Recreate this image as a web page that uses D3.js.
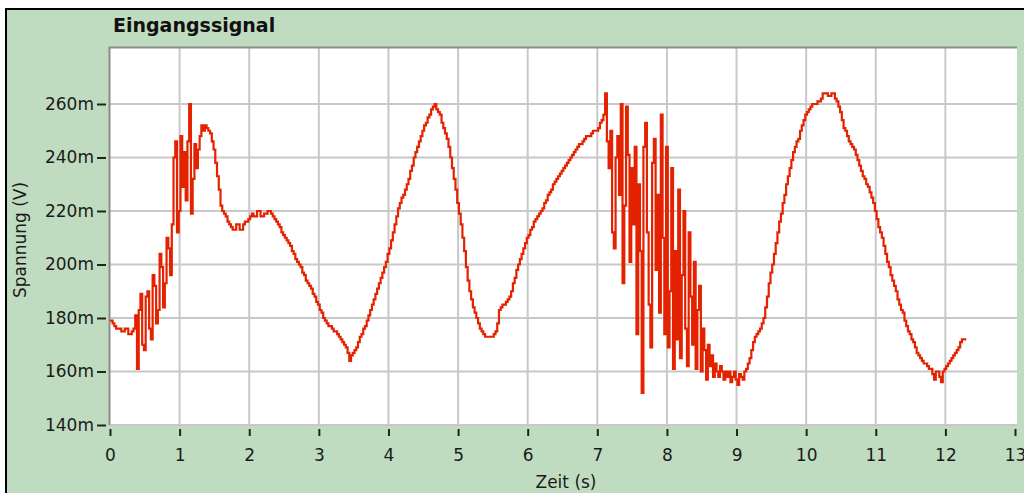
<!DOCTYPE html>
<html>
<head>
<meta charset="utf-8">
<script src="https://cdn.jsdelivr.net/npm/d3@7"></script>
<style>
  body { margin: 0; background: #fff; }
  svg { display: block; }
</style>
</head>
<body>
<div id="wrapper"></div>
<script>
// waveform: start time and sample interval (s), values in mV (two rows = 1 s)
const t0 = 0
const dt = 0.025
const volts = [
  179, 179, 178, 177, 176, 176, 176, 175, 175, 176, 176, 174, 174, 175, 176, 181, 161, 183, 189, 170,
  168, 188, 190, 176, 172, 196, 192, 178, 183, 204, 199, 184, 193, 210, 206, 196, 215, 240, 246, 212,
  220, 248, 229, 242, 224, 246, 260, 219, 232, 245, 236, 243, 248, 252, 250, 252, 251, 250, 249, 246,
  243, 238, 233, 228, 222, 220, 219, 218, 216, 215, 214, 213, 213, 215, 215, 213, 213, 215, 216, 216,
  217, 218, 219, 218, 218, 220, 220, 218, 218, 219, 219, 220, 220, 219, 218, 217, 216, 215, 214, 212,
  211, 210, 209, 208, 207, 205, 204, 202, 201, 200, 199, 197, 196, 194, 193, 192, 191, 189, 188, 186,
  185, 183, 182, 180, 179, 178, 177, 177, 176, 175, 175, 174, 173, 172, 171, 170, 169, 167, 164, 166,
  167, 168, 169, 171, 173, 174, 176, 177, 179, 181, 183, 185, 187, 189, 191, 193, 195, 197, 199, 201,
  204, 206, 209, 212, 215, 218, 221, 223, 225, 226, 228, 230, 232, 235, 237, 240, 242, 244, 246, 248,
  250, 252, 253, 255, 256, 258, 259, 260, 258, 257, 256, 253, 251, 249, 247, 244, 240, 236, 232, 228,
  223, 219, 215, 210, 205, 199, 194, 190, 187, 184, 182, 180, 178, 176, 175, 174, 173, 173, 173, 173,
  173, 174, 175, 178, 183, 184, 185, 185, 186, 187, 188, 190, 193, 195, 198, 200, 202, 204, 206, 208,
  210, 211, 213, 214, 216, 217, 218, 219, 220, 221, 223, 224, 226, 227, 228, 230, 231, 232, 233, 234,
  235, 236, 237, 238, 239, 240, 241, 242, 243, 244, 245, 245, 246, 247, 248, 248, 248, 249, 250, 250,
  250, 251, 253, 254, 256, 264, 246, 236, 250, 212, 206, 240, 248, 226, 260, 193, 222, 259, 241, 201,
  236, 215, 244, 174, 230, 205, 152, 244, 253, 212, 185, 169, 238, 247, 198, 226, 182, 256, 210, 174,
  244, 169, 190, 236, 161, 205, 172, 228, 165, 196, 220, 176, 162, 212, 188, 170, 201, 161, 183, 192,
  160, 176, 168, 157, 170, 162, 166, 158, 163, 160, 158, 162, 160, 157, 160, 158, 160, 156, 158, 160,
  157, 155, 159, 158, 157, 160, 161, 163, 165, 168, 171, 173, 174, 175, 176, 178, 180, 184, 188, 193,
  197, 200, 204, 208, 212, 216, 219, 223, 226, 230, 233, 236, 239, 242, 244, 246, 247, 250, 252, 254,
  256, 257, 258, 259, 260, 260, 260, 261, 261, 262, 264, 264, 264, 263, 263, 264, 264, 262, 261, 259,
  257, 254, 251, 250, 248, 246, 245, 244, 243, 241, 239, 237, 235, 233, 232, 230, 229, 227, 225, 223,
  220, 217, 214, 212, 210, 207, 204, 201, 199, 196, 194, 192, 190, 187, 185, 183, 182, 179, 177, 175,
  174, 172, 171, 169, 167, 166, 165, 164, 163, 163, 162, 161, 161, 159, 157, 160, 160, 158, 156, 160,
  161, 162, 163, 164, 165, 166, 167, 168, 169, 171, 172, 172, 172
]

const xTicks = [0, 1, 2, 3, 4, 5, 6, 7, 8, 9, 10, 11, 12, 13]
const yTicks = [140, 160, 180, 200, 220, 240, 260]

const title = "Eingangssignal"
const xLabel = "Zeit (s)"
const yLabel = "Spannung (V)"

const data = volts.map((v, i) => ({ t: t0 + i * dt, v }))
const xAccessor = d => d.t
const yAccessor = d => d.v

let dms = {
  width: 1024,
  height: 493,
  margins: { top: 48, right: 7, bottom: 68, left: 110 }
}
dms.boundedWidth = dms.width - dms.margins.left - dms.margins.right
dms.boundedHeight = dms.height - dms.margins.top - dms.margins.bottom

const font = "'DejaVu Sans', Tahoma, sans-serif"
const green = "#c0dcc0"

const wrapper = d3.select("#wrapper")
  .append("svg")
  .attr("width", dms.width)
  .attr("height", dms.height)

// panel background with black frame on top/left
wrapper.append("rect")
  .attr("x", 6).attr("y", 9)
  .attr("width", dms.width + 20).attr("height", dms.height + 20)
  .attr("fill", green)
  .attr("stroke", "#000")
  .attr("stroke-width", 2)

wrapper.append("text")
  .attr("x", 113).attr("y", 32)
  .attr("font-family", font)
  .attr("font-size", 19)
  .attr("font-weight", "bold")
  .attr("fill", "#111")
  .text(title)

const bounds = wrapper.append("g")
  .attr("transform", `translate(${dms.margins.left}, ${dms.margins.top})`)

const xScale = d3.scaleLinear()
  .domain([0, 13])
  .range([0, 905])

const yScale = d3.scaleLinear()
  .domain([140, 260])
  .range([dms.boundedHeight, 56])

bounds.append("rect")
  .attr("width", dms.boundedWidth)
  .attr("height", dms.boundedHeight)
  .attr("fill", "#fff")

// grid
bounds.append("g")
  .selectAll("line")
  .data(xTicks.filter(d => d > 0 && d < 13))
  .join("line")
  .attr("x1", d => xScale(d)).attr("x2", d => xScale(d))
  .attr("y1", 0).attr("y2", dms.boundedHeight)
  .attr("stroke", "#c8c8c8")
  .attr("stroke-width", 2)

bounds.append("g")
  .selectAll("line")
  .data(yTicks)
  .join("line")
  .attr("x1", 0).attr("x2", dms.boundedWidth)
  .attr("y1", d => yScale(d)).attr("y2", d => yScale(d))
  .attr("stroke", "#c8c8c8")
  .attr("stroke-width", 2)

// plot frame, darker on top and left
bounds.append("line")
  .attr("x1", -1).attr("x2", dms.boundedWidth)
  .attr("y1", -0.5).attr("y2", -0.5)
  .attr("stroke", "#8c8c8c").attr("stroke-width", 2)
bounds.append("line")
  .attr("x1", -0.5).attr("x2", -0.5)
  .attr("y1", -1).attr("y2", dms.boundedHeight)
  .attr("stroke", "#8c8c8c").attr("stroke-width", 2)

// quantized signal -> draw as steps
const lineGenerator = d3.line()
  .x(d => xScale(xAccessor(d)))
  .y(d => yScale(yAccessor(d)))
  .curve(d3.curveStep)

bounds.append("path")
  .attr("d", lineGenerator(data))
  .attr("fill", "none")
  .attr("stroke", "#e42200")
  .attr("stroke-width", 2.2)

// axes
const yAxisGenerator = d3.axisLeft(yScale)
  .tickValues(yTicks)
  .tickSize(9)
  .tickPadding(3)
  .tickFormat(d => d + "m")

const yAxis = bounds.append("g")
  .attr("transform", "translate(-4, 0)")
  .call(yAxisGenerator)

const xAxisGenerator = d3.axisBottom(xScale)
  .tickValues(xTicks)
  .tickSize(7)
  .tickPadding(13)
  .tickFormat(d3.format("d"))

const xAxis = bounds.append("g")
  .attr("transform", `translate(0, ${dms.boundedHeight + 4})`)
  .call(xAxisGenerator)

;[xAxis, yAxis].forEach(ax => {
  ax.select(".domain").remove()
  ax.selectAll(".tick line").attr("stroke", "#222").attr("stroke-width", 2)
  ax.selectAll(".tick text")
    .attr("font-family", font)
    .attr("font-size", 17)
    .attr("fill", "#1a1a1a")
})

wrapper.append("text")
  .attr("x", 566).attr("y", 488)
  .attr("text-anchor", "middle")
  .attr("font-family", font)
  .attr("font-size", 17)
  .attr("fill", "#1a1a1a")
  .text(xLabel)

wrapper.append("text")
  .attr("transform", "translate(26, 240) rotate(-90)")
  .attr("text-anchor", "middle")
  .attr("font-family", font)
  .attr("font-size", 17)
  .attr("fill", "#1a1a1a")
  .text(yLabel)
</script>
</body>
</html>
